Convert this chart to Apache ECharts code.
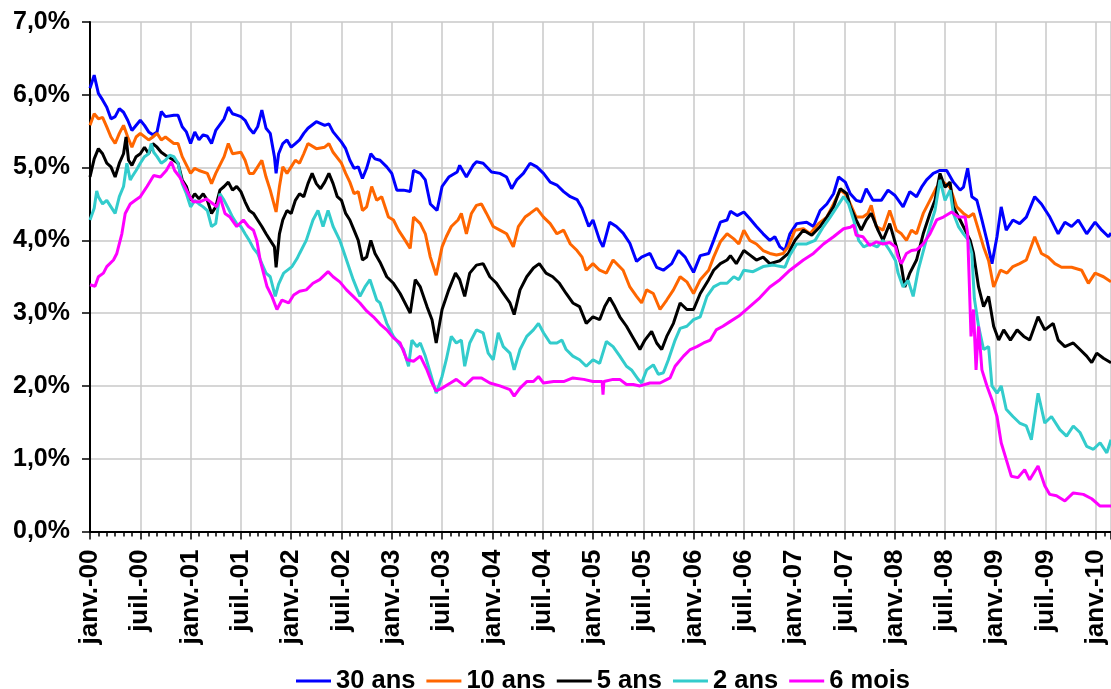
<!DOCTYPE html>
<html>
<head>
<meta charset="utf-8">
<script src="https://cdn.jsdelivr.net/npm/echarts@6/dist/echarts.min.js"></script>
<style>
html,body{margin:0;padding:0;background:#fff;}
#chart{width:1111px;height:689px;}
</style>
</head>
<body>
<div id="chart"></div>
<script>
// x = months since January 2000, y = yield in %
const seriesNames = ['30 ans', '10 ans', '5 ans', '2 ans', '6 mois'];
const monthLabels = ['janv.', 'juil.'];
const yMin = 0, yMax = 7, yStep = 1;
const xMin = 0, xMax = 121.8, xStep = 6;

const ans30 = [[0,6.09],[0.5,6.27],[1,6.02],[1.5,5.93],[2,5.83],[2.5,5.67],[3,5.70],[3.5,5.81],[4,5.76],[4.5,5.65],[5,5.51],[6,5.65],[6.5,5.58],[7,5.49],[7.5,5.45],[8,5.49],[8.5,5.77],[9,5.70],[10,5.72],[10.5,5.72],[11,5.56],[11.5,5.49],[12,5.33],[12.5,5.49],[13,5.38],[13.5,5.45],[14,5.43],[14.5,5.33],[15,5.51],[16,5.67],[16.5,5.83],[17,5.74],[17.5,5.72],[18,5.70],[18.5,5.65],[19,5.54],[19.5,5.47],[20,5.56],[20.5,5.79],[21,5.54],[21.5,5.47],[22,5.15],[22.2,4.92],[22.5,5.19],[23,5.33],[23.5,5.38],[24,5.28],[24.5,5.33],[25,5.38],[25.5,5.47],[26,5.54],[27,5.63],[28,5.58],[28.5,5.60],[29,5.49],[30,5.35],[30.5,5.26],[31,5.10],[31.5,4.99],[32,5.01],[32.5,4.85],[33,4.99],[33.5,5.19],[34,5.12],[34.6,5.10],[35.4,5.01],[36,4.92],[36.6,4.69],[37.4,4.69],[38.2,4.67],[38.6,4.96],[39.4,4.92],[40,4.83],[40.6,4.50],[41.4,4.41],[42,4.74],[42.8,4.87],[43.8,4.94],[44.1,5.03],[44.9,4.87],[45.7,5.03],[46.1,5.08],[46.9,5.06],[47.9,4.94],[48.9,4.92],[49.7,4.87],[50.3,4.71],[50.9,4.83],[51.7,4.92],[52.5,5.06],[53.3,5.01],[54.1,4.92],[54.9,4.80],[55.7,4.76],[56.5,4.67],[57.3,4.60],[58.1,4.56],[58.7,4.44],[59.5,4.19],[60,4.28],[60.8,4.0],[61.2,3.91],[62,4.25],[62.8,4.19],[63.6,4.10],[64.4,3.96],[65.2,3.71],[65.8,3.77],[66.8,3.82],[67.6,3.63],[68.4,3.59],[69.4,3.68],[70.2,3.86],[71,3.77],[72,3.56],[72.8,3.79],[73.8,3.82],[74.4,4.0],[75.2,4.25],[76,4.28],[76.4,4.40],[77.2,4.34],[78,4.39],[78.7,4.30],[79.5,4.19],[80.3,4.09],[81.1,4.0],[81.7,4.05],[82.3,3.91],[82.9,3.86],[83.5,4.09],[84.3,4.23],[85.5,4.25],[86.3,4.19],[87.1,4.41],[87.9,4.50],[88.7,4.64],[89.3,4.87],[90.1,4.80],[90.7,4.64],[91.4,4.55],[92,4.53],[92.6,4.71],[93.4,4.55],[94.4,4.55],[95.2,4.69],[96,4.62],[97,4.46],[97.8,4.67],[98.6,4.60],[99.2,4.73],[99.8,4.83],[100.6,4.92],[101.4,4.96],[102.2,4.96],[103,4.80],[103.8,4.69],[104.2,4.73],[104.7,4.99],[105.2,4.60],[105.8,4.55],[106.4,4.28],[107,4.0],[107.6,3.68],[108.2,4.05],[108.7,4.46],[109.3,4.14],[110.1,4.28],[110.9,4.23],[111.7,4.32],[112.7,4.60],[113.5,4.50],[114.5,4.32],[115.5,4.09],[116.3,4.25],[117.1,4.19],[117.9,4.28],[118.9,4.09],[119.9,4.25],[120.7,4.14],[121.5,4.05],[121.8,4.10]];

const ans10 = [[0,5.58],[0.5,5.74],[1,5.67],[1.5,5.69],[2,5.56],[2.5,5.42],[3,5.33],[3.5,5.47],[4,5.58],[4.5,5.42],[5,5.28],[5.5,5.42],[6,5.47],[7,5.38],[7.5,5.42],[8,5.47],[8.5,5.38],[9,5.42],[10,5.33],[10.5,5.33],[11,5.15],[12,4.92],[12.5,4.99],[13,4.96],[14,4.92],[14.5,4.78],[15,4.92],[16,5.15],[16.5,5.33],[17,5.19],[18,5.21],[18.5,5.10],[19,4.92],[19.5,4.92],[20,5.01],[20.5,5.10],[21,4.87],[21.5,4.69],[22.2,4.39],[22.6,4.74],[23,5.01],[23.5,4.92],[24,5.01],[24.5,5.10],[25,5.06],[25.5,5.19],[26,5.33],[27,5.26],[28,5.28],[28.5,5.33],[29,5.21],[30,5.06],[30.5,4.92],[31,4.80],[31.5,4.64],[32,4.67],[32.5,4.41],[33,4.46],[33.6,4.74],[34.2,4.55],[34.8,4.60],[35.6,4.32],[36.2,4.28],[36.8,4.14],[37.6,4.0],[38.2,3.89],[38.6,4.32],[39.4,4.23],[40,4.09],[40.6,3.77],[41.3,3.52],[42,3.91],[42.5,4.05],[43.1,4.19],[43.9,4.28],[44.3,4.37],[44.9,4.09],[45.5,4.37],[46.1,4.48],[46.7,4.50],[47.3,4.37],[48.1,4.19],[48.9,4.14],[49.7,4.09],[50.5,3.91],[51.1,4.19],[51.9,4.32],[52.5,4.37],[53.3,4.44],[54.1,4.32],[54.9,4.23],[55.7,4.09],[56.5,4.14],[57.3,3.95],[58.1,3.86],[58.7,3.77],[59.2,3.59],[60,3.68],[60.8,3.59],[61.6,3.55],[62.4,3.73],[63.6,3.59],[64.4,3.36],[65.2,3.23],[65.8,3.14],[66.4,3.32],[67.2,3.27],[68,3.05],[68.8,3.18],[69.6,3.32],[70.4,3.50],[71.2,3.43],[72,3.27],[72.8,3.46],[73.8,3.59],[74.4,3.77],[75.2,3.98],[76,4.09],[76.8,4.02],[77.4,3.95],[78,4.14],[78.7,4.0],[79.5,3.95],[80.3,3.86],[81.1,3.82],[81.9,3.80],[82.7,3.82],[83.3,3.91],[84.1,4.14],[85.1,4.16],[85.9,4.09],[86.9,4.23],[87.9,4.32],[88.7,4.50],[89.5,4.69],[90.1,4.64],[90.7,4.50],[91.4,4.32],[92.2,4.32],[92.8,4.37],[93.2,4.48],[93.8,4.19],[94.6,4.14],[95.4,4.41],[96.2,4.14],[96.8,4.09],[97.4,4.0],[98,4.14],[98.6,4.09],[99.4,4.37],[100.2,4.55],[101,4.73],[101.8,4.80],[102.6,4.73],[103.4,4.46],[104.2,4.37],[104.8,4.32],[105.4,4.37],[106,4.14],[106.6,3.91],[107.2,3.72],[107.8,3.36],[108.6,3.59],[109.4,3.55],[110.1,3.64],[110.9,3.68],[111.7,3.73],[112.7,4.05],[113.5,3.82],[114.3,3.77],[115.1,3.68],[115.9,3.63],[117.1,3.63],[118.3,3.59],[119.1,3.41],[119.9,3.55],[120.9,3.50],[121.8,3.43]];

const ans5 = [[0,4.87],[0.5,5.12],[1,5.26],[1.5,5.19],[2,5.06],[2.5,5.01],[3,4.87],[3.5,5.06],[4,5.19],[4.3,5.42],[4.6,5.10],[5,5.03],[5.5,5.15],[6,5.19],[6.5,5.28],[7,5.19],[7.5,5.33],[8,5.28],[8.5,5.21],[9,5.17],[10,5.10],[10.5,5.06],[11,4.83],[11.5,4.74],[12,4.55],[12.5,4.64],[13,4.57],[13.5,4.64],[14,4.55],[14.5,4.37],[15,4.46],[15.5,4.69],[16,4.74],[16.5,4.80],[17,4.69],[17.5,4.74],[18,4.67],[18.5,4.53],[19,4.41],[19.5,4.37],[20,4.28],[20.5,4.19],[21,4.09],[21.5,4.0],[22,3.91],[22.2,3.63],[22.6,4.09],[23,4.28],[23.5,4.41],[24,4.37],[24.5,4.55],[25,4.64],[25.5,4.60],[26,4.78],[26.5,4.92],[27,4.78],[27.5,4.71],[28,4.80],[28.5,4.92],[29,4.78],[29.5,4.60],[30,4.55],[30.5,4.37],[31,4.28],[31.5,4.14],[32,4.0],[32.5,3.73],[33,3.77],[33.5,4.0],[34,3.82],[34.6,3.70],[35.4,3.50],[36.2,3.41],[37,3.27],[38.2,3.0],[38.8,3.46],[39.4,3.36],[40.2,3.09],[40.8,2.91],[41.3,2.59],[42,3.05],[42.8,3.32],[43.6,3.55],[44.1,3.46],[44.7,3.23],[45.3,3.55],[46.1,3.66],[46.9,3.68],[47.7,3.50],[48.5,3.41],[49.3,3.27],[50.1,3.14],[50.6,2.98],[51.3,3.32],[52.1,3.50],[52.9,3.62],[53.6,3.68],[54.4,3.55],[55.2,3.50],[56,3.41],[56.8,3.27],[57.6,3.14],[58.4,3.09],[59.2,2.86],[60,2.95],[60.8,2.91],[61.4,3.09],[62,3.21],[62.6,3.09],[63.2,2.95],[64,2.82],[64.8,2.66],[65.6,2.50],[66.2,2.63],[67,2.75],[67.6,2.59],[68.2,2.50],[68.8,2.68],[69.6,2.86],[70.4,3.14],[71.2,3.05],[72,3.05],[72.8,3.27],[73.8,3.46],[74.4,3.59],[75.2,3.68],[76,3.73],[76.4,3.79],[77.1,3.68],[78,3.86],[78.7,3.80],[79.5,3.73],[80.3,3.77],[81.1,3.68],[82.3,3.72],[83.3,3.82],[84.1,4.0],[85.1,4.14],[86.1,4.07],[87.1,4.19],[87.9,4.32],[88.7,4.46],[89.5,4.71],[90.3,4.64],[90.7,4.46],[91.4,4.28],[92,4.14],[92.6,4.28],[93.2,4.37],[94,4.14],[94.6,4.0],[95.4,4.23],[96.2,3.91],[96.8,3.64],[97.2,3.36],[97.8,3.55],[98.6,3.73],[99.4,4.09],[100.2,4.37],[100.8,4.55],[101.4,4.92],[102,4.73],[102.6,4.80],[103,4.46],[103.8,4.28],[104.4,4.14],[105,4.0],[105.4,3.82],[106,3.36],[106.6,3.09],[107.2,3.23],[107.8,2.82],[108.4,2.63],[109,2.77],[109.8,2.63],[110.6,2.77],[111.4,2.68],[112.1,2.63],[113.1,2.95],[113.9,2.77],[114.9,2.86],[115.5,2.63],[116.3,2.54],[117.3,2.59],[118.1,2.50],[118.9,2.41],[119.5,2.32],[120.1,2.45],[120.9,2.38],[121.8,2.32]];

const ans2 = [[0,4.28],[0.5,4.44],[0.8,4.68],[1,4.60],[1.5,4.50],[2,4.55],[2.5,4.46],[3,4.37],[3.5,4.60],[4,4.74],[4.4,5.06],[4.8,4.83],[5,4.87],[5.5,4.96],[6,5.06],[6.5,5.15],[7,5.19],[7.3,5.33],[7.6,5.21],[8,5.15],[8.5,5.06],[9,5.10],[9.5,5.17],[10,5.15],[10.5,5.06],[11,4.78],[11.5,4.64],[12,4.46],[12.5,4.55],[13,4.50],[13.5,4.46],[14,4.41],[14.5,4.19],[15,4.23],[15.5,4.64],[16,4.55],[16.5,4.44],[17,4.32],[17.5,4.23],[18,4.19],[18.5,4.09],[19,4.0],[19.5,3.89],[20,3.82],[20.5,3.68],[21,3.55],[21.5,3.50],[22.1,3.23],[22.5,3.40],[23.1,3.55],[24.1,3.64],[24.7,3.75],[25,3.82],[25.8,4.0],[26.6,4.28],[27.2,4.41],[27.8,4.19],[28.4,4.41],[29,4.19],[29.8,4.0],[30.6,3.73],[31.4,3.46],[32.2,3.23],[32.8,3.36],[33.4,3.46],[34.2,3.18],[34.6,3.14],[35.4,2.86],[36.2,2.68],[37.4,2.50],[38,2.27],[38.4,2.63],[39,2.54],[39.4,2.59],[40,2.41],[40.6,2.18],[41.3,1.90],[42,2.13],[42.5,2.36],[43.1,2.68],[43.7,2.59],[44.3,2.63],[44.7,2.27],[45.3,2.59],[46.1,2.77],[46.9,2.73],[47.5,2.45],[48.1,2.36],[48.7,2.73],[49.3,2.54],[50.1,2.45],[50.6,2.22],[51.3,2.50],[52.1,2.68],[52.9,2.77],[53.5,2.86],[54.1,2.73],[54.9,2.59],[55.7,2.59],[56.3,2.63],[56.8,2.50],[57.6,2.41],[58.4,2.36],[59.2,2.27],[60,2.36],[60.8,2.31],[61.6,2.61],[62.4,2.54],[63.2,2.41],[64,2.27],[64.6,2.22],[65.4,2.09],[65.8,2.04],[66.4,2.22],[67.2,2.29],[67.8,2.16],[68.4,2.18],[69,2.36],[69.8,2.63],[70.4,2.79],[71.2,2.82],[72,2.91],[72.8,2.95],[73.6,3.23],[74.4,3.36],[75.2,3.41],[76,3.41],[76.8,3.50],[77.4,3.46],[78,3.59],[79.1,3.57],[80.3,3.64],[81.5,3.66],[82.9,3.63],[83.5,3.80],[84.3,3.95],[85.5,3.95],[86.5,4.0],[87.5,4.19],[88.3,4.32],[89.1,4.46],[89.9,4.60],[90.5,4.50],[91.1,4.28],[91.7,4.0],[92.3,3.91],[93.1,3.95],[93.9,3.91],[94.6,4.0],[95.4,3.86],[96.1,3.72],[96.4,3.55],[97,3.36],[97.6,3.45],[98.2,3.23],[98.8,3.59],[99.4,3.85],[100.2,4.19],[100.8,4.41],[101.4,4.83],[102,4.55],[102.6,4.69],[103,4.37],[103.6,4.19],[104.2,4.09],[104.8,4.0],[105.2,3.82],[105.5,3.20],[106,2.82],[106.6,2.50],[107.2,2.54],[107.6,2.0],[108.2,1.90],[108.7,2.0],[109.3,1.68],[110.1,1.58],[110.9,1.49],[111.7,1.45],[112.3,1.26],[113.1,1.90],[113.9,1.49],[114.7,1.58],[115.7,1.40],[116.5,1.31],[117.3,1.45],[118.1,1.36],[118.9,1.17],[119.7,1.13],[120.5,1.22],[121.3,1.08],[121.8,1.26]];

const mois6 = [[0,3.39],[0.6,3.37],[1,3.50],[1.6,3.55],[2,3.64],[2.8,3.73],[3.2,3.82],[3.8,4.09],[4.2,4.37],[4.8,4.50],[5.4,4.55],[6,4.60],[6.8,4.74],[7.6,4.89],[8.4,4.87],[9.1,4.96],[9.7,5.08],[10.1,4.96],[10.7,4.87],[11.3,4.74],[11.9,4.60],[12.3,4.53],[13.1,4.53],[13.9,4.57],[14.7,4.50],[15.1,4.46],[15.5,4.60],[16.1,4.37],[16.7,4.32],[17.5,4.19],[18.3,4.28],[18.9,4.19],[19.5,4.14],[19.9,4.0],[20.3,3.73],[20.5,3.64],[21.1,3.37],[21.7,3.23],[22.3,3.05],[22.9,3.18],[23.7,3.14],[24.3,3.25],[25,3.30],[25.8,3.32],[26.6,3.41],[27.4,3.46],[28.4,3.57],[29,3.50],[29.8,3.43],[30.6,3.32],[31.4,3.23],[32.2,3.14],[33,3.03],[33.8,2.95],[34.6,2.85],[35.4,2.77],[36.2,2.66],[37,2.59],[37.8,2.36],[38.6,2.34],[39.4,2.41],[40.2,2.22],[40.8,2.04],[41.3,1.93],[42,1.97],[43,2.04],[43.7,2.09],[44.7,2.0],[45.7,2.11],[46.7,2.11],[47.7,2.04],[48.9,2.0],[50.1,1.95],[50.6,1.86],[51.3,1.97],[52.1,2.06],[52.9,2.06],[53.5,2.13],[54.1,2.04],[55.3,2.06],[56.5,2.06],[57.6,2.11],[58.9,2.09],[60,2.06],[61.1,2.06],[61.2,1.88],[61.3,2.06],[62.4,2.09],[63.2,2.09],[64,2.02],[64.8,2.02],[65.6,2.0],[66.8,2.04],[68,2.04],[69.2,2.11],[69.8,2.27],[70.8,2.41],[71.6,2.50],[72.4,2.54],[73.2,2.59],[74,2.63],[74.7,2.77],[75.5,2.82],[76.3,2.88],[77.4,2.96],[78.7,3.09],[79.9,3.21],[81.1,3.36],[82.3,3.46],[83.5,3.59],[85.1,3.73],[86.3,3.82],[87.5,3.95],[88.7,4.05],[89.9,4.16],[90.7,4.18],[91.1,4.21],[91.4,4.07],[92.2,4.05],[93,3.93],[93.8,3.98],[94.6,3.95],[95.4,3.97],[96.1,3.91],[96.4,3.77],[96.8,3.68],[97.4,3.82],[98,3.86],[98.6,3.87],[99.4,3.95],[100.2,4.09],[101,4.28],[101.8,4.32],[102.8,4.39],[103.6,4.32],[104.4,4.32],[104.7,4.09],[104.9,3.40],[105.1,2.68],[105.4,3.05],[105.7,2.22],[106,2.82],[106.4,2.22],[107,2.0],[107.6,1.81],[108.2,1.58],[108.7,1.22],[109.3,0.99],[109.9,0.76],[110.7,0.74],[111.5,0.85],[112.1,0.71],[113.1,0.90],[113.9,0.63],[114.5,0.51],[115.3,0.49],[116.3,0.42],[117.3,0.53],[118.5,0.51],[119.5,0.45],[120.5,0.35],[121.8,0.35]];

const seriesData = [ans30, ans10, ans5, ans2, mois6];
const colors = ['#0000ff', '#ff6600', '#000000', '#33cccc', '#ff00ff'];

const FONT = '"Liberation Sans", Arial, sans-serif';
const chart = echarts.init(document.getElementById('chart'), null, {renderer: 'canvas'});

chart.setOption({
  animation: false,
  backgroundColor: '#ffffff',
  grid: {left: 90, right: 0, top: 22, bottom: 157.5, containLabel: false, outerBoundsMode: 'none'},
  legend: {
    data: seriesNames,
    top: 668,
    left: 296,
    padding: 0,
    icon: 'rect',
    itemWidth: 35,
    itemHeight: 3,
    itemGap: 11,
    textStyle: {fontFamily: FONT, fontWeight: 'bold', fontSize: 25.5, color: '#000'}
  },
  xAxis: {
    type: 'value',
    min: xMin, max: xMax, interval: xStep,
    axisLine: {show: true, lineStyle: {color: '#000', width: 2}},
    axisTick: {show: true, length: 8, lineStyle: {color: '#000', width: 1.5}},
    minorTick: {show: true, splitNumber: 6, length: 5, lineStyle: {color: '#000', width: 1.5}},
    splitLine: {show: true, lineStyle: {color: '#c8c8c8', width: 1.5}},
    axisLabel: {
      rotate: 90, margin: 18, showMaxLabel: false,
      fontFamily: FONT, fontWeight: 'bold', fontSize: 26, color: '#000',
      formatter: function (v) {
        if (Math.abs(v % xStep) > 1e-6) return '';
        const y = Math.floor(v / 12);
        const m = Math.round(v - y * 12);
        return monthLabels[m === 0 ? 0 : 1] + '-' + String(y).padStart(2, '0');
      }
    }
  },
  yAxis: {
    type: 'value',
    min: yMin, max: yMax, interval: yStep,
    axisLine: {show: true, lineStyle: {color: '#000', width: 2}},
    axisTick: {show: true, length: 8, lineStyle: {color: '#000', width: 1.5}},
    splitLine: {show: true, lineStyle: {color: '#c8c8c8', width: 1.5}},
    axisLabel: {
      margin: 20, fontFamily: FONT, fontWeight: 'bold', fontSize: 25, color: '#000',
      formatter: function (v) { return v.toFixed(1).replace('.', ',') + '%'; }
    }
  },
  series: seriesNames.map(function (name, i) {
    return {
      name: name, type: 'line', data: seriesData[i],
      showSymbol: false, symbol: 'none',
      lineStyle: {color: colors[i], width: 3},
      itemStyle: {color: colors[i]},
      z: 2 + i
    };
  })
});
</script>
</body>
</html>
